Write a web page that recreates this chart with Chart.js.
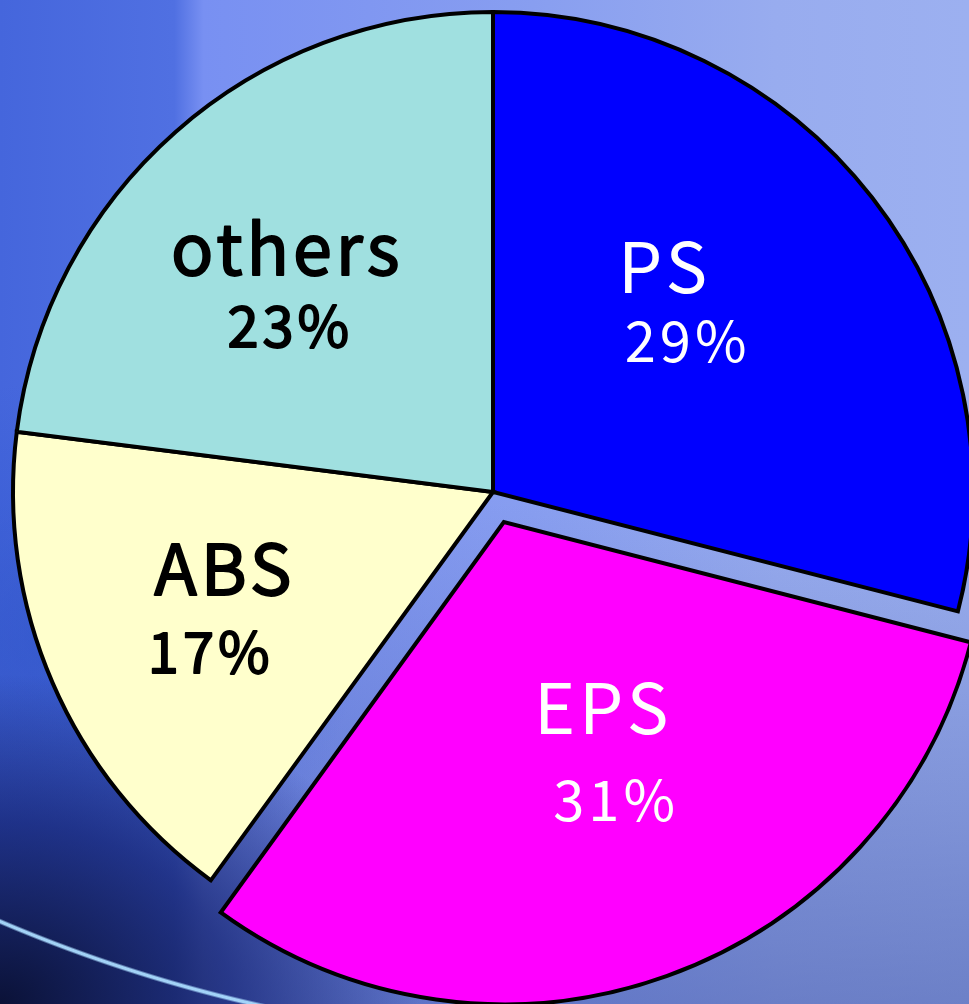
<!DOCTYPE html>
<html>
<head>
<meta charset="utf-8">
<script src="https://cdn.jsdelivr.net/npm/chart.js@4/dist/chart.umd.min.js"></script>
<style>
    html, body {
        margin: 0;
        padding: 0;
        width: 969px;
        height: 1004px;
        overflow: hidden;
    }
    body {
        background:
            radial-gradient(ellipse 420px 330px at 0px 1004px, rgba(8, 14, 48, 0.95) 0%, rgba(18, 32, 110, 0.7) 55%, transparent 100%),
            radial-gradient(ellipse 300px 260px at 60px 640px, rgba(40, 80, 200, 0.5) 0%, transparent 100%),
            linear-gradient(180deg, transparent 0%, transparent 50%, rgba(50, 70, 150, 0.45) 100%),
            linear-gradient(90deg, #4566dc 0%, #5070e2 18%, #7890f2 21%, #889ef0 55%, #98acef 80%, #9cb0f0 100%);
    }
    #horizon {
        position: absolute;
        left: 0;
        top: 880px;
        width: 290px;
        height: 124px;
        background: radial-gradient(circle 1500px at 589px -1337px, transparent 1496px, rgba(170, 220, 255, 0.95) 1498px, rgba(170, 220, 255, 0.95) 1500px, transparent 1502px);
    }
    #wrap {
        position: absolute;
        left: 0;
        top: 0;
        width: 969px;
        height: 1004px;
    }
</style>
</head>
<body>
<div id="horizon"></div>
<div id="wrap"><canvas id="pieChart"></canvas></div>
<script>
const categories = ['PS', 'EPS', 'ABS', 'others'];
const shares = [29, 31, 17, 23];
const sliceColors = ['#0000ff', '#ff00ff', '#ffffcc', '#a0e0e0'];
const textColors = ['#ffffff', '#ffffff', '#000000', '#000000'];

// EPS is pulled out of the pie
const EXPLODE = 32;

// label line positions relative to a point halfway out on each slice
const labelLayout = [
    { name: [-18, -52], pct: [5, 17] },
    { name: [18, -14], pct: [31, 73] },
    { name: [-48, 8], pct: [-62, 86] },
    { name: [-47, -37], pct: [-44, 35] }
];

function drawText(ctx, text, x, y, heavy) {
    ctx.fillText(text, x, y);
    if (heavy) {
        ctx.strokeText(text, x, y);
    }
}

const sliceLabels = {
    id: 'sliceLabels',
    afterDatasetsDraw(chart) {
        const ctx = chart.ctx;
        const meta = chart.getDatasetMeta(0);
        meta.data.forEach((arc, i) => {
            const p = arc.getProps(['x', 'y', 'startAngle', 'endAngle', 'outerRadius'], true);
            const mid = (p.startAngle + p.endAngle) / 2;
            const shift = categories[i] === 'EPS' ? EXPLODE : 0;
            const rr = p.outerRadius * 0.5 + shift;
            const ax = p.x + Math.cos(mid) * rr;
            const ay = p.y + Math.sin(mid) * rr;
            const lay = labelLayout[i];
            const heavy = textColors[i] === '#000000';

            ctx.save();
            ctx.fillStyle = textColors[i];
            ctx.strokeStyle = textColors[i];
            ctx.lineWidth = 1.8;
            ctx.lineJoin = 'round';
            ctx.textAlign = 'center';
            ctx.textBaseline = 'alphabetic';
            ctx.letterSpacing = '4px';
            ctx.font = '70px "Noto Sans CJK JP", "Noto Sans", sans-serif';
            drawText(ctx, categories[i], ax + lay.name[0], ay + lay.name[1], heavy);
            ctx.font = '56px "Noto Sans CJK JP", "Noto Sans", sans-serif';
            drawText(ctx, shares[i] + '%', ax + lay.pct[0], ay + lay.pct[1], heavy);
            ctx.restore();
        });
    }
};

const ctx = document.getElementById('pieChart').getContext('2d');
const pieChart = new Chart(ctx, {
    type: 'pie',
    data: {
        labels: categories,
        datasets: [{
            data: shares,
            backgroundColor: sliceColors,
            borderColor: '#000000',
            borderWidth: 4,
            borderJoinStyle: 'miter',
            offset: c => categories[c.dataIndex] === 'EPS' ? EXPLODE * 4 : 0,
            clip: false
        }]
    },
    options: {
        responsive: true,
        maintainAspectRatio: false,
        animation: false,
        events: [],
        radius: 480,
        layout: {
            padding: { left: 17, right: 0, top: 0, bottom: 20 }
        },
        plugins: {
            legend: { display: false },
            tooltip: { enabled: false }
        }
    },
    plugins: [sliceLabels]
});
</script>
</body>
</html>
